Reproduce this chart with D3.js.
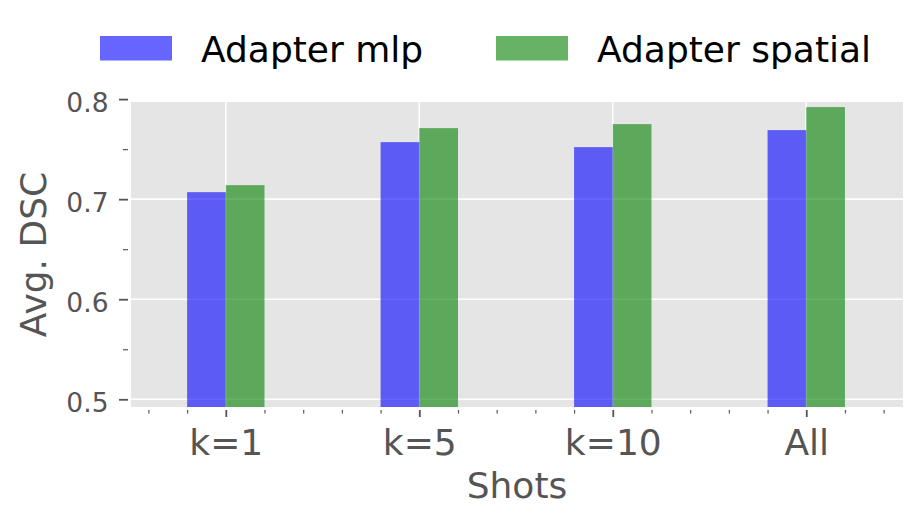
<!DOCTYPE html>
<html><head><meta charset="utf-8">
<script src="https://cdn.jsdelivr.net/npm/d3@7"></script>
<style>body{margin:0;background:#fff}svg{display:block}text{font-family:"DejaVu Sans",sans-serif}</style>
</head><body>
<script>
const categories = ["k=1", "k=5", "k=10", "All"];
const seriesNames = ["Adapter mlp", "Adapter spatial"];
const adapterMlp = [0.707, 0.757, 0.752, 0.769];
const adapterSpatial = [0.714, 0.771, 0.775, 0.792];
const yTickValues = [0.5, 0.6, 0.7, 0.8];
const yMinorTicks = [0.55, 0.65, 0.75];

const W = 923, H = 527;
const L = 131, R = 903, T = 102, B = 407;
const svg = d3.select("body").append("svg").attr("width", W).attr("height", H);

const x = d3.scaleLinear().domain([-0.49, 3.5]).range([L, R]);
const y = d3.scaleLinear().domain([0.4923, 0.7971]).range([B, T]);
const barW = 0.2;

// background
svg.append("rect").attr("x", L).attr("y", T).attr("width", R - L).attr("height", B - T).attr("fill", "#E5E5E5");

// grid
const idx = categories.map((d, i) => i);
svg.append("g").selectAll("line").data(idx).join("line")
  .attr("x1", d => x(d)).attr("x2", d => x(d)).attr("y1", T).attr("y2", B)
  .attr("stroke", "#fff").attr("stroke-width", 1.6);
svg.append("g").selectAll("line").data(yTickValues.filter(v => y(v) >= T)).join("line")
  .attr("x1", L).attr("x2", R).attr("y1", d => y(d)).attr("y2", d => y(d))
  .attr("stroke", "#fff").attr("stroke-width", 1.6);

// bars
const series = [
  {name: seriesNames[0], vals: adapterMlp, color: "blue", off: -barW},
  {name: seriesNames[1], vals: adapterSpatial, color: "green", off: 0}
];
series.forEach(s => {
  svg.append("g").selectAll("rect").data(s.vals).join("rect")
    .attr("x", (d, i) => x(i + s.off))
    .attr("width", x(barW) - x(0))
    .attr("y", d => y(d))
    .attr("height", d => B - y(d))
    .attr("fill", s.color).attr("fill-opacity", 0.6);
});

// y axis
const yAxis = d3.axisLeft(y).tickValues(yTickValues).tickFormat(d3.format(".1f")).tickSize(9).tickPadding(0);
const gy = svg.append("g").attr("transform", `translate(${L - 3},0)`).call(yAxis);
gy.select(".domain").remove();
gy.selectAll(".tick line").attr("stroke", "#555").attr("stroke-width", 1.8);
gy.selectAll(".tick text").attr("fill", "#555").attr("font-size", "26.5px")
  .attr("font-family", "DejaVu Sans").attr("x", -19.5).attr("dy", "0.45em");
const gym = svg.append("g").attr("transform", `translate(${L - 3},0)`)
  .call(d3.axisLeft(y).tickValues(yMinorTicks).tickSize(5).tickFormat(""));
gym.select(".domain").remove();
gym.selectAll(".tick line").attr("stroke", "#555").attr("stroke-width", 1.2);

// x axis
const xAxis = d3.axisBottom(x).tickValues(idx).tickFormat(i => categories[i]).tickSize(7).tickPadding(0);
const gx = svg.append("g").attr("transform", `translate(0,${B + 3})`).call(xAxis);
gx.select(".domain").remove();
gx.selectAll(".tick line").attr("stroke", "#555").attr("stroke-width", 1.8);
gx.selectAll(".tick text").attr("fill", "#555").attr("font-size", "36px")
  .attr("font-family", "DejaVu Sans").attr("y", 45).attr("dy", 0);
const minorX = d3.range(-2, 18).map(k => k * 0.2).filter(v => Math.abs(v - Math.round(v)) > 1e-6);
const gxm = svg.append("g").attr("transform", `translate(0,${B + 3})`)
  .call(d3.axisBottom(x).tickValues(minorX).tickSize(3.5).tickFormat(""));
gxm.select(".domain").remove();
gxm.selectAll(".tick line").attr("stroke", "#555").attr("stroke-width", 1.2);

// axis labels
svg.append("text").attr("x", (L + R) / 2).attr("y", 498).attr("text-anchor", "middle")
  .attr("font-size", "36px").attr("fill", "#555").text("Shots");
svg.append("text").attr("transform", `translate(46,${(T + B) / 2}) rotate(-90)`).attr("text-anchor", "middle")
  .attr("font-size", "36px").attr("fill", "#555").text("Avg. DSC");

// legend
const legendX = [100, 496];
series.forEach((s, i) => {
  svg.append("rect").attr("x", legendX[i]).attr("y", 36).attr("width", 72).attr("height", 24.5)
    .attr("fill", s.color).attr("fill-opacity", 0.6);
  svg.append("text").attr("x", legendX[i] + 101).attr("y", 61.5).attr("font-size", "36px")
    .attr("fill", "#000").text(s.name);
});
</script>
</body></html>
